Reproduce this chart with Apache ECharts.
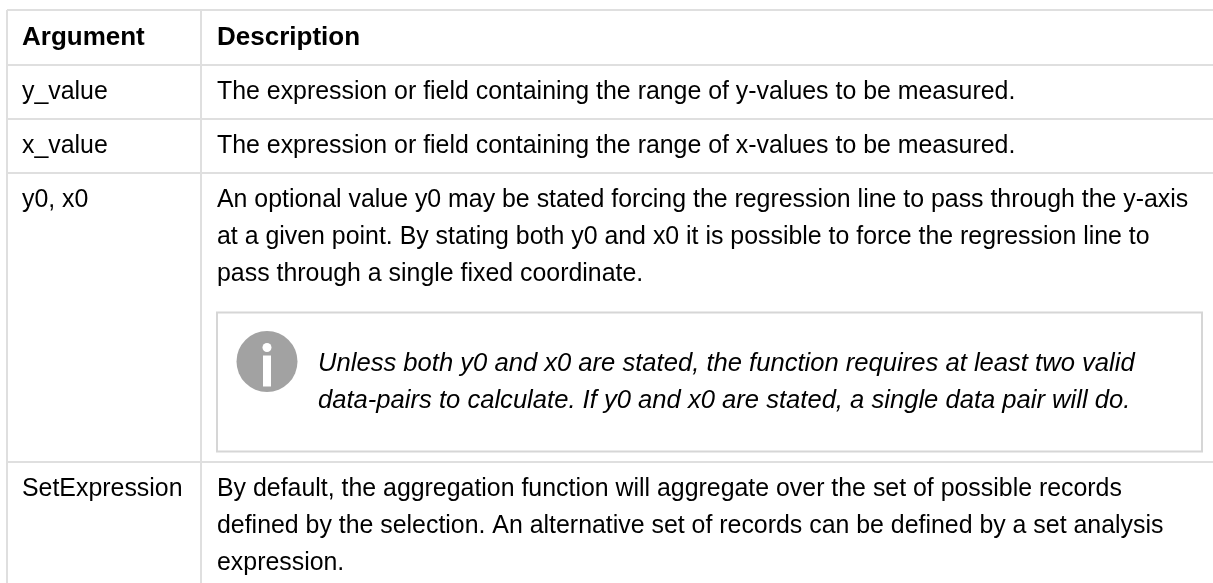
<!DOCTYPE html>
<html><head><meta charset="utf-8">
<script src="https://cdn.jsdelivr.net/npm/echarts@6/dist/echarts.min.js"></script>
<style>html,body{margin:0;padding:0;background:#fff;overflow:hidden}#c{width:1213px;height:583px}</style>
</head><body><div id="c"></div>
<script>
// ---- table content ----
const headers = ['Argument', 'Description'];
const argumentNames = ['y_value', 'x_value', 'y0, x0', 'SetExpression'];
const descriptionLines = [
  ['The expression or field containing the range of y-values to be measured.'],
  ['The expression or field containing the range of x-values to be measured.'],
  ['An optional value y0 may be stated forcing the regression line to pass through the y-axis',
   'at a given point. By stating both y0 and x0 it is possible to force the regression line to',
   'pass through a single fixed coordinate.'],
  ['By default, the aggregation function will aggregate over the set of possible records',
   'defined by the selection. An alternative set of records can be defined by a set analysis',
   'expression.']
];
const noteRowIndex = 2;
const noteLines = [
  'Unless both y0 and x0 are stated, the function requires at least two valid',
  'data-pairs to calculate. If y0 and x0 are stated, a single data pair will do.'
];

// ---- layout ----
const W = 1213, H = 583;
const tableLeft = 7, tableTop = 10, colX = 201;
const headerH = 55;
const lineH = 37, padV = 8.5;
const textPadL = 15;
const boxMarginTop = 20, boxMarginBottom = 10.5, boxPadV = 32.5, boxRight = 1202, boxTextX = 318;
const font = "'Liberation Sans', Arial, Helvetica, sans-serif";
const bodySize = 24.9, headSize = 26, noteSize = 25.6;
const lineColor = '#dfdfdf', textColor = '#000';

const els = [];
function hline(y, x1, x2) {
  els.push({type: 'line', shape: {x1: x1, y1: y, x2: x2, y2: y}, style: {stroke: lineColor, lineWidth: 2}, silent: true});
}
function vline(x, y1, y2) {
  els.push({type: 'line', shape: {x1: x, y1: y1, x2: x, y2: y2}, style: {stroke: lineColor, lineWidth: 2}, silent: true});
}
function text(str, x, y, opts) {
  els.push({type: 'text', x: x, y: y, silent: true, style: Object.assign({
    text: str, fill: textColor, font: bodySize + 'px ' + font,
    textAlign: 'left', textVerticalAlign: 'middle'
  }, opts || {})});
}

// header
hline(tableTop, tableLeft, W);
text(headers[0], tableLeft + textPadL, tableTop + headerH / 2, {font: 'bold ' + headSize + 'px ' + font});
text(headers[1], colX + textPadL + 1, tableTop + headerH / 2, {font: 'bold ' + headSize + 'px ' + font});
let y = tableTop + headerH;
hline(y, tableLeft, W);

for (let r = 0; r < argumentNames.length; r++) {
  const rowTop = y;
  const lines = descriptionLines[r];
  text(argumentNames[r], tableLeft + textPadL, rowTop + padV + lineH / 2);
  lines.forEach(function (ln, i) {
    text(ln, colX + textPadL + 1, rowTop + padV + lineH * (i + 0.5));
  });
  let h = padV * 2 + lines.length * lineH;
  if (r === noteRowIndex) {
    const boxTop = rowTop + padV + lines.length * lineH + boxMarginTop;
    const boxH = boxPadV * 2 + noteLines.length * lineH;
    const boxLeft = colX + textPadL + 1;
    els.push({type: 'rect', silent: true, shape: {x: boxLeft, y: boxTop, width: boxRight - boxLeft, height: boxH},
      style: {fill: '#fff', stroke: '#d6d6d6', lineWidth: 2}});
    const cx = boxLeft + 50, cy = boxTop + boxPadV + lineH / 2 - 2;
    els.push({type: 'circle', silent: true, shape: {cx: cx, cy: cy, r: 30.5}, style: {fill: '#a2a2a2'}});
    els.push({type: 'circle', silent: true, shape: {cx: cx, cy: cy - 14, r: 4.5}, style: {fill: '#fff'}});
    els.push({type: 'rect', silent: true, shape: {x: cx - 4, y: cy - 6, width: 8, height: 31}, style: {fill: '#fff'}});
    noteLines.forEach(function (ln, i) {
      text(ln, boxTextX, boxTop + boxPadV + lineH * (i + 0.5), {font: 'italic ' + noteSize + 'px ' + font});
    });
    h = padV + lines.length * lineH + boxMarginTop + boxH + boxMarginBottom;
  }
  y = rowTop + h;
  if (r < argumentNames.length - 1) hline(y, tableLeft, W);
}
vline(tableLeft, tableTop, H + 20);
vline(colX, tableTop, H + 20);

const chart = echarts.init(document.getElementById('c'), null, {renderer: 'canvas'});
chart.setOption({backgroundColor: '#fff', animation: false, graphic: {elements: els}});
</script>
</body></html>
